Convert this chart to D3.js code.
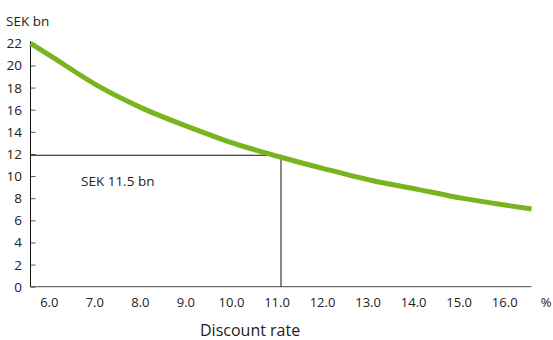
<!DOCTYPE html>
<html>
<head>
<meta charset="utf-8">
<script src="https://cdn.jsdelivr.net/npm/d3@7"></script>
<style>
  html, body { margin: 0; padding: 0; background: #fff; }
  svg { display: block; font-family: "Open Sans", "Noto Sans", sans-serif; }
</style>
</head>
<body>
<svg id="chart" width="553" height="340"></svg>
<script>
// ---- data ----
const rates = [5.5, 6, 7, 8, 9, 10, 11, 12, 13, 14, 15, 16, 16.5];
const values = [22.0, 20.7, 18.1, 16.05, 14.4, 12.9, 11.7, 10.6, 9.6, 8.8, 7.98, 7.33, 7.03];
const xTicks = [6, 7, 8, 9, 10, 11, 12, 13, 14, 15, 16];
const yTicks = [0, 2, 4, 6, 8, 10, 12, 14, 16, 18, 20, 22];
const markerRate = [11];
const markerValue = [11.88];
const markerLabel = ["SEK 11.5 bn"];

// ---- layout ----
const svg = d3.select("#chart");
const x = d3.scaleLinear().domain([5.5, 16.5]).range([30.5, 531.5]);
const y = d3.scaleLinear().domain([0, 22]).range([286.7, 43.3]);

// x axis line
svg.append("line")
  .attr("x1", x(5.5)).attr("x2", x(16.5))
  .attr("y1", y(0)).attr("y2", y(0))
  .attr("stroke", "#6e6e6e").attr("stroke-width", 1.2);

// x tick labels
svg.append("g").selectAll("text").data(xTicks).join("text")
  .attr("x", d => x(d) - 4)
  .attr("y", 307)
  .attr("text-anchor", "middle")
  .attr("font-size", 13)
  .attr("fill", "#222")
  .text(d => d3.format(".1f")(d));

svg.append("text").attr("x", 546).attr("y", 307)
  .attr("text-anchor", "middle").attr("font-size", 13).attr("fill", "#222").text("%");

// y axis
const yAxis = d3.axisRight(y).tickValues(yTicks).tickSize(5).tickFormat("");
const gy = svg.append("g").attr("transform", `translate(${x(5.5)},0)`).call(yAxis);
gy.select(".domain").attr("stroke", "#111").attr("d", `M0,${y(22) - 2}V${y(0)}`);
gy.selectAll(".tick line").attr("stroke", "#555");

svg.append("g").selectAll("text").data(yTicks).join("text")
  .attr("x", 22)
  .attr("y", d => y(d) + 5)
  .attr("text-anchor", "end")
  .attr("font-size", 13.5)
  .attr("fill", "#222")
  .text(d => d);

// marker lines
svg.append("line")
  .attr("x1", x(5.5)).attr("x2", x(markerRate[0]))
  .attr("y1", y(markerValue[0])).attr("y2", y(markerValue[0]))
  .attr("stroke", "#111").attr("stroke-width", 1);
svg.append("line")
  .attr("x1", x(markerRate[0])).attr("x2", x(markerRate[0]))
  .attr("y1", y(markerValue[0])).attr("y2", y(0))
  .attr("stroke", "#111").attr("stroke-width", 1);

svg.append("text").attr("x", 81).attr("y", 186)
  .attr("font-size", 13.5).attr("fill", "#222").text(markerLabel[0]);

// curve
const line = d3.line().x((d, i) => x(rates[i])).y(d => y(d)).curve(d3.curveMonotoneX);
svg.append("path").datum(values)
  .attr("d", line)
  .attr("fill", "none")
  .attr("stroke", "#78b41e")
  .attr("stroke-width", 5);

// titles
svg.append("text").attr("x", 6).attr("y", 26)
  .attr("font-size", 13.5).attr("fill", "#222").text("SEK bn");
svg.append("text").attr("x", 200).attr("y", 336)
  .attr("font-size", 16).attr("fill", "#222").text("Discount rate");
</script>
</body>
</html>
